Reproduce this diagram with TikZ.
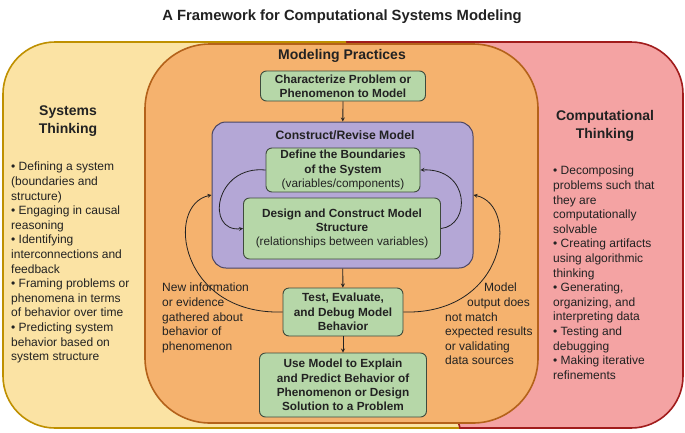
\documentclass[tikz,border=0pt]{standalone}
\usepackage{fontspec}
\setmainfont{Liberation Sans}
\usetikzlibrary{arrows, positioning}

\definecolor{stfill}{HTML}{FBE3A4}
\definecolor{stline}{HTML}{BF9000}
\definecolor{ctfill}{HTML}{F4A3A3}
\definecolor{ctline}{HTML}{A11C1C}
\definecolor{mpfill}{HTML}{F5B26E}
\definecolor{mpline}{HTML}{B4621A}
\definecolor{crfill}{HTML}{B4A7D6}
\definecolor{crline}{HTML}{4A4563}
\definecolor{stepfill}{HTML}{B6D7A8}
\definecolor{stepline}{HTML}{3E4A3C}
\definecolor{ink}{HTML}{222222}

\tikzset{
  >=stealth, % small filled arrow heads
  region/.style={draw, line width=1.6pt, inner sep=0pt}, % the big coloured areas
  stepbox/.style={draw=stepline, fill=stepfill, line width=0.9pt,
    rounded corners=6pt, align=center, text=ink, inner sep=0pt,
    font=\bfseries\fontsize{11.8}{14.3}\selectfont}, % green practice boxes
  heading/.style={align=center, text=ink, font=\bfseries\fontsize{14}{17.5}\selectfont},
  bullets/.style={align=left, text=ink, inner sep=0pt,
    font=\fontsize{12}{14.6}\selectfont}, % lists of skills
  link/.style={->, draw=ink, line width=0.8pt}, % connectors
}

\begin{document}
\begin{tikzpicture}[x=1pt, y=-1pt]
  \useasboundingbox[fill=white] (0,0) rectangle (685,432);

  \node[font=\bfseries\fontsize{14.8}{17}\selectfont, text=ink] (title) at (342,17)
  {A Framework for Computational Systems Modeling};

  % the three overlapping areas (left and right ones meet under the middle one)
  \draw[region, draw=stline, fill=stfill, rounded corners=52pt]
    (460,428) -- (3,428) -- (3,42) [sharp corners] -- (460,42) -- cycle;
  \draw[region, draw=ctline, fill=ctfill, rounded corners=52pt]
    (347,42) -- (683,42) -- (683,428) [sharp corners] -- (460,428) -- cycle;
  \node[region, draw=mpline, fill=mpfill, rounded corners=65pt,
    minimum width=393pt, minimum height=379pt] (practices) at (341.5,233.5) {};
  \node[region, draw=crline, fill=crfill, line width=1pt, rounded corners=14pt,
    minimum width=261pt, minimum height=146pt] (construct) at (342.5,195) {};

  \node[heading] (st head) at (68,121) {Systems\\Thinking};
  \node[heading] (ct head) at (605,126) {Computational\\Thinking};
  \node[heading] (mp head) at (342,56) {Modeling Practices};
  \node[heading, font=\bfseries\fontsize{12.2}{14}\selectfont] (cr head) at (345,135)
  {Construct/Revise Model};

  \node[bullets, anchor=north west] (st list) at (11,162) {%
    • Defining a system\\(boundaries and\\structure)\\
    • Engaging in causal\\reasoning\\
    • Identifying\\interconnections and\\feedback\\
    • Framing problems or\\phenomena in terms\\of behavior over time\\
    • Predicting system\\behavior based on\\system structure};
  \node[bullets, anchor=north west] (ct list) at (553,166) {%
    • Decomposing\\problems such that\\they are\\computationally\\solvable\\
    • Creating artifacts\\using algorithmic\\thinking\\
    • Generating,\\organizing, and\\interpreting data\\
    • Testing and\\debugging\\
    • Making iterative\\refinements};

  % modeling steps
  \node[stepbox, minimum width=165pt, minimum height=30pt] (char) at (343,86)
  {Characterize Problem or\\Phenomenon to Model};
  \node[stepbox, minimum width=154pt, minimum height=44pt] (define) at (343,170)
  {Define the Boundaries\\of the System\\{\mdseries (variables/components)}};
  \node[stepbox, minimum width=197pt, minimum height=61pt] (design) at (342,228.5)
  {Design and Construct Model\\Structure\\{\mdseries (relationships between variables)}};
  \node[stepbox, minimum width=120pt, minimum height=48pt] (test) at (343,312)
  {Test, Evaluate,\\and Debug Model\\Behavior};
  \node[stepbox, minimum width=167pt, minimum height=64pt] (use) at (343,385)
  {Use Model to Explain\\and Predict Behavior of\\Phenomenon or Design\\Solution to a Problem};

  \draw[link] (char) -- (construct);
  \draw[link] (construct) -- (test);
  \draw[link] (test) -- (use);
  \draw[link] (define.west) .. controls +(-51,-5) and +(-38,4) .. (design.west);
  \draw[link] (design.east) .. controls +(30,-3) and +(50,-2) .. (define.east);
  \draw[link] (test.west) .. controls +(-103,3) and +(-47,10) .. (construct.west);
  \draw[link] (test.east) .. controls +(103,3) and +(47,10) .. (construct.east);

  \node[bullets, anchor=north west] (new info) at (162,283)
  {New information\\or evidence\\gathered about\\behavior of\\phenomenon};
  \node[bullets, anchor=north west] (mismatch) at (445,283)
  {\hspace*{39pt}Model\\\hspace*{22pt}output does\\not match\\expected results\\or validating\\data sources};
\end{tikzpicture}
\end{document}
